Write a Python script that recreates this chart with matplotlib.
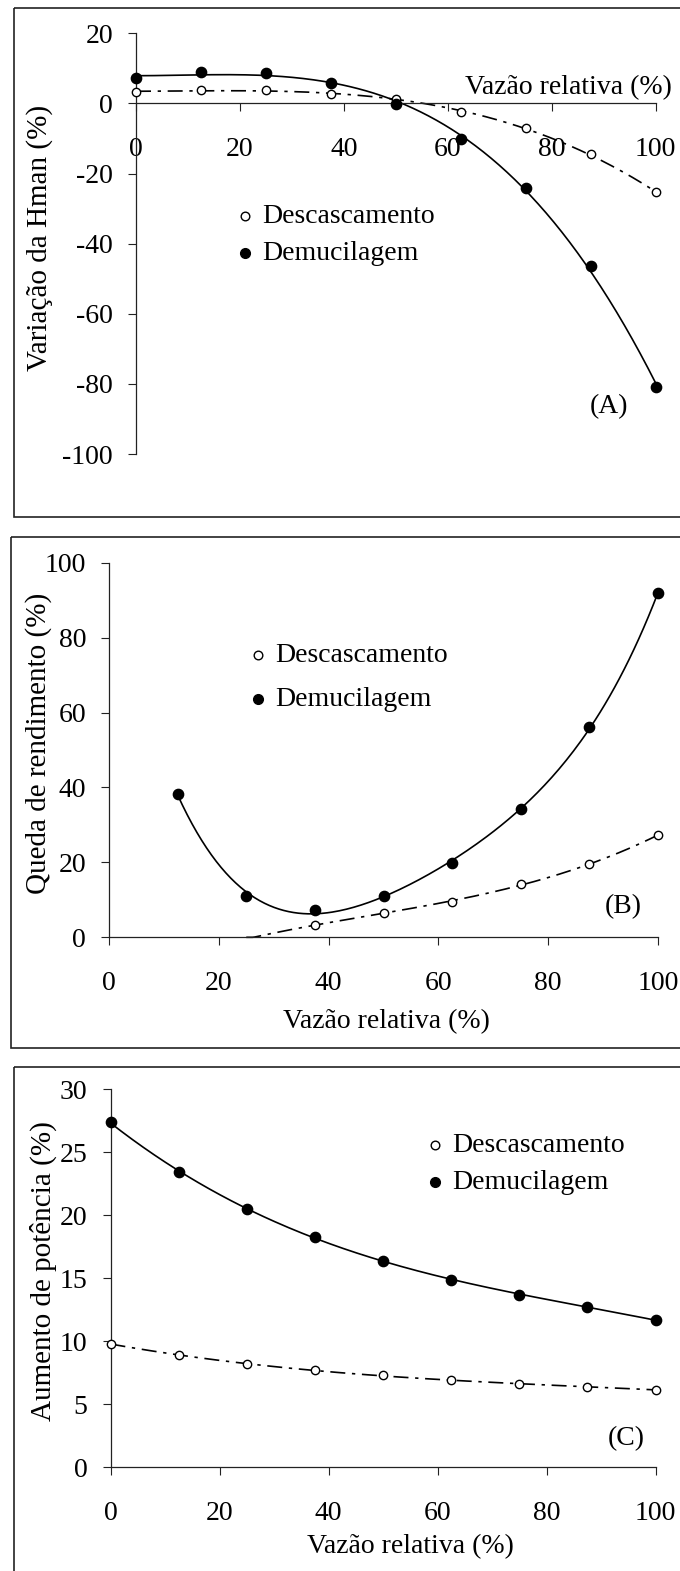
import numpy as np
import matplotlib.pyplot as plt
from matplotlib.patches import Rectangle

plt.rcParams['font.family'] = ['Liberation Serif', 'DejaVu Serif']
plt.rcParams['axes.unicode_minus'] = False

# data
vazao = [0, 12.5, 25, 37.5, 50, 62.5, 75, 87.5, 100]

# (A) variacao da Hman
hman_desc = [3.3, 3.8, 3.8, 2.6, 1.2, -2.4, -7.1, -14.4, -25.4]
hman_demu = [7.2, 9.0, 8.8, 5.7, -0.3, -10.2, -24.2, -46.3, -80.8]

# (B) queda de rendimento
rend_x_desc = [37.5, 50, 62.5, 75, 87.5, 100]
rend_desc = [3.2, 6.6, 9.5, 14.1, 19.5, 27.3]
rend_x_demu = [12.5, 25, 37.5, 50, 62.5, 75, 87.5, 100]
rend_demu = [38.3, 11.1, 7.3, 11.1, 19.8, 34.2, 56.2, 91.8]

# (C) aumento de potencia
pot_desc = [9.8, 8.9, 8.2, 7.7, 7.3, 6.9, 6.6, 6.4, 6.15]
pot_demu = [27.4, 23.4, 20.5, 18.3, 16.4, 14.9, 13.7, 12.7, 11.7]

xticks = [0, 20, 40, 60, 80, 100]
yticks_a = [-100, -80, -60, -40, -20, 0, 20]
yticks_b = [0, 20, 40, 60, 80, 100]
yticks_c = [0, 5, 10, 15, 20, 25, 30]

W, H = 680, 1571
FS = 20
fig = plt.figure(figsize=(6.8, 15.71), dpi=100)


def make_axes(x0, x1, y0, y1):
    # pixel box -> figure fraction
    return fig.add_axes([x0 / W, 1 - y1 / H, (x1 - x0) / W, (y1 - y0) / H])


def trend(ax, x, y, deg, ls, x_from=None):
    x = np.asarray(x, float)
    c = np.polyfit(x, y, deg)
    lo = x.min() if x_from is None else x_from
    xs = np.linspace(lo, x.max(), 200)
    ys = np.polyval(c, xs)
    if x_from is not None:
        ys = np.clip(ys, 0, None)
    ax.plot(xs, ys, color='black', lw=1.2, ls=ls, zorder=2, clip_on=False)


def style(ax, yticks, ylim):
    ax.set_xlim(0, 100)
    ax.set_ylim(*ylim)
    ax.spines['top'].set_visible(False)
    ax.spines['right'].set_visible(False)
    for s in ['left', 'bottom']:
        ax.spines[s].set_linewidth(0.9)
        ax.spines[s].set_color('#222222')
    ax.set_xticks(xticks)
    ax.set_xticklabels([str(t) for t in xticks])
    ax.set_yticks(yticks)
    ax.set_yticklabels([str(t) for t in yticks])
    ax.tick_params(axis='both', direction='out', length=6, width=0.8,
                   color='#222222', labelsize=FS)
    ax.tick_params(axis='x', pad=18)
    ax.tick_params(axis='y', pad=10.5)
    ax.patch.set_visible(False)


dashdot = (0, (9, 4, 2, 4))
open_kw = dict(marker='o', ms=6, mfc='white', mec='black', mew=1.0, ls='none', zorder=4, clip_on=False)
fill_kw = dict(marker='o', ms=7.4, mfc='black', mec='black', ls='none', zorder=4, clip_on=False)

# ---- panel A
axA = make_axes(136, 655.7, 33.3, 454)
style(axA, yticks_a, (-100, 20))
axA.spines['bottom'].set_position(('data', 0))
trend(axA, vazao, hman_desc, 3, dashdot)
trend(axA, vazao, hman_demu, 3, '-')
axA.plot(vazao, hman_desc, **open_kw)
axA.plot(vazao, hman_demu, **fill_kw)

# ---- panel B
axB = make_axes(109, 658, 562.7, 937.3)
style(axB, yticks_b, (0, 100))
trend(axB, rend_x_desc, rend_desc, 3, dashdot, x_from=25)
trend(axB, rend_x_demu, rend_demu, 4, '-')
axB.plot(rend_x_desc, rend_desc, **open_kw)
axB.plot(rend_x_demu, rend_demu, **fill_kw)

# ---- panel C
axC = make_axes(110.5, 655.5, 1089.3, 1467.3)
style(axC, yticks_c, (0, 30))
trend(axC, vazao, pot_desc, 3, dashdot)
trend(axC, vazao, pot_demu, 3, '-')
axC.plot(vazao, pot_desc, **open_kw)
axC.plot(vazao, pot_demu, **fill_kw)

# overlay in pixel coords for frames, legends and labels
ov = fig.add_axes([0, 0, 1, 1], zorder=-1)
ov.set_xlim(0, W)
ov.set_ylim(H, 0)
ov.axis('off')
for (x0, y0, y1) in [(14, 8, 517.3), (11, 536.7, 1047.7), (14, 1066.7, 1590)]:
    ov.add_patch(Rectangle((x0, y0), 700, y1 - y0, fill=False, ec='#222222', lw=1.2))

top = fig.add_axes([0, 0, 1, 1], zorder=5)
top.set_xlim(0, W)
top.set_ylim(H, 0)
top.axis('off')

leg_open = dict(marker='o', ms=6.2, mfc='white', mec='black', mew=1.0, ls='none')
leg_fill = dict(marker='o', ms=7, mfc='black', mec='black', ls='none')
for mx, tx, y1, y2 in [(245, 262.7, 216, 253.3), (258, 275.4, 655, 699), (435, 452.3, 1145, 1182.3)]:
    top.plot([mx], [y1], **leg_open)
    top.plot([mx], [y2], **leg_fill)
    top.text(tx, y1, 'Descascamento', fontsize=FS, va='center')
    top.text(tx, y2, 'Demucilagem', fontsize=FS, va='center')

top.text(609, 406.7, '(A)', fontsize=FS, ha='center', va='center')
top.text(623, 906.7, '(B)', fontsize=FS, ha='center', va='center')
top.text(626.7, 1438.3, '(C)', fontsize=FS, ha='center', va='center')

top.text(672, 88, 'Vazão relativa (%)', fontsize=FS, ha='right', va='center')
top.text(386, 1022, 'Vazão relativa (%)', fontsize=FS, ha='center', va='center')
top.text(410, 1547, 'Vazão relativa (%)', fontsize=FS, ha='center', va='center')

top.text(40, 238, 'Variação da Hman (%)', fontsize=21, rotation=90, ha='center', va='center')
top.text(39, 743, 'Queda de rendimento (%)', fontsize=21, rotation=90, ha='center', va='center')
top.text(43, 1271, 'Aumento de potência (%)', fontsize=21, rotation=90, ha='center', va='center')

fig.savefig('out.png', dpi=100, facecolor='white')
